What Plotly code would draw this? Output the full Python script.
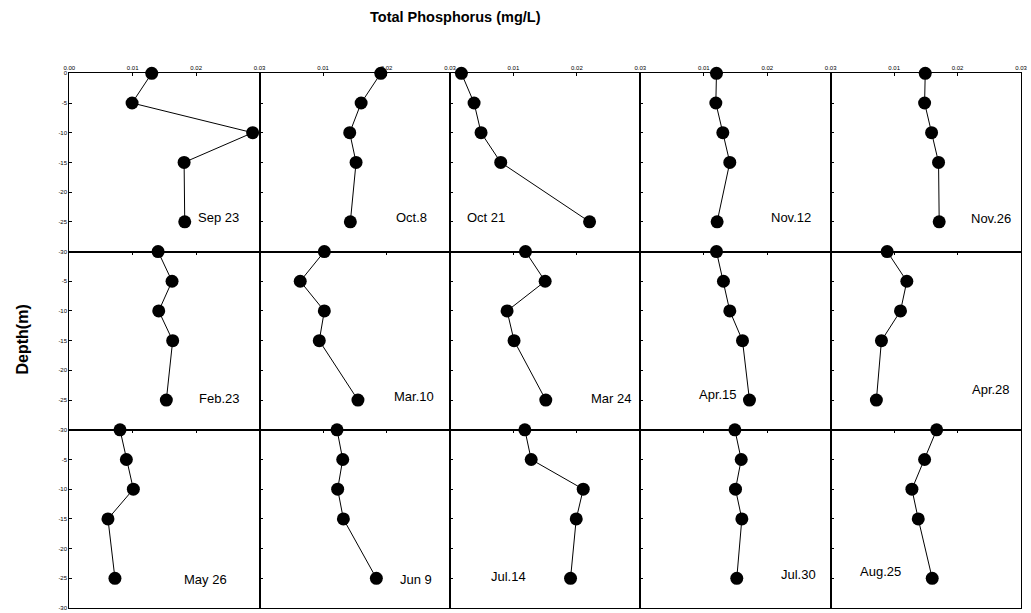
import plotly.graph_objects as go

# ---- data ----
depths = [0, -5, -10, -15, -25]
dates = ["Sep 23", "Oct.8", "Oct 21", "Nov.12", "Nov.26",
         "Feb.23", "Mar.10", "Mar 24", "Apr.15", "Apr.28",
         "May 26", "Jun 9", "Jul.14", "Jul.30", "Aug.25"]
sep23 = [0.0130, 0.0099, 0.0289, 0.0181, 0.0182]
oct8 = [0.0191, 0.0160, 0.0142, 0.0152, 0.0143]
oct21 = [0.0018, 0.0038, 0.0049, 0.0080, 0.0220]
nov12 = [0.0120, 0.0119, 0.0130, 0.0141, 0.0121]
nov26 = [0.0149, 0.0148, 0.0159, 0.0170, 0.0171]
feb23 = [0.0140, 0.0162, 0.0141, 0.0163, 0.0153]
mar10 = [0.0102, 0.0064, 0.0102, 0.0094, 0.0155]
mar24 = [0.0119, 0.0150, 0.0090, 0.0101, 0.0151]
apr15 = [0.0120, 0.0131, 0.0141, 0.0161, 0.0172]
apr28 = [0.0089, 0.0120, 0.0110, 0.0080, 0.0072]
may26 = [0.0080, 0.0090, 0.0101, 0.0061, 0.0072]
jun9 = [0.0122, 0.0131, 0.0123, 0.0132, 0.0184]
jul14 = [0.0118, 0.0128, 0.0210, 0.0199, 0.0190]
jul30 = [0.0149, 0.0159, 0.0150, 0.0160, 0.0152]
aug25 = [0.0167, 0.0148, 0.0128, 0.0138, 0.0160]
series = [sep23, oct8, oct21, nov12, nov26,
          feb23, mar10, mar24, apr15, apr28,
          may26, jun9, jul14, jul30, aug25]

x_tickvals_first = [0, 0.01, 0.02, 0.03]
x_ticktext_first = ["0.00", "0.01", "0.02", "0.03"]
x_tickvals_rest = [0.01, 0.02, 0.03]
x_ticktext_rest = ["0.01", "0.02", "0.03"]
y_tickvals = [-30, -25, -20, -15, -10, -5, 0]
y_ticktext = ["-30", "-25", "-20", "-15", "-10", "-5", "0"]

# label placement (data coords within each panel)
label_pos = [(0.0235, -24.2), (0.0240, -24.2), (0.0056, -24.2), (0.0238, -24.2), (0.0253, -24.4),
             (0.0236, -24.8), (0.0244, -24.4), (0.0253, -24.7), (0.0123, -24.0), (0.0252, -23.3),
             (0.0215, -25.2), (0.0247, -25.2), (0.0093, -24.7), (0.0249, -24.3), (0.0078, -23.8)]

W, H = 1031, 613
x_left, x_right = 64, 1027
y_top, y_bot = 71, 611
ncol, nrow = 5, 3
cw = (x_right - x_left) / ncol
rh = (y_bot - y_top) / nrow

fig = go.Figure()
layout = dict(
    width=W, height=H, autosize=False,
    margin=dict(l=0, r=0, t=0, b=0),
    paper_bgcolor="white", plot_bgcolor="white",
    showlegend=False,
    font=dict(family="Liberation Sans, Arial, sans-serif", color="black"),
)
annotations = []

for k in range(15):
    r, c = divmod(k, ncol)
    n = k + 1
    xs = "" if n == 1 else str(n)
    xd = [(x_left + c * cw) / W, (x_left + (c + 1) * cw) / W]
    yd = [1 - (y_top + (r + 1) * rh) / H, 1 - (y_top + r * rh) / H]
    first_col = c == 0
    layout["xaxis" + xs] = dict(
        domain=xd, range=[0, 0.03], side="top", anchor="y" + xs,
        showline=True, linecolor="black", linewidth=1, mirror=True,
        ticks="inside", ticklen=3, tickcolor="black", tickwidth=1,
        tickvals=x_tickvals_first if first_col else x_tickvals_rest,
        ticktext=x_ticktext_first if first_col else x_ticktext_rest,
        showticklabels=(r == 0), tickfont=dict(size=6),
        showgrid=False, zeroline=False, fixedrange=True,
    )
    yv = y_tickvals if r == 0 else y_tickvals[:-1]
    yt = y_ticktext if r == 0 else y_ticktext[:-1]
    layout["yaxis" + xs] = dict(
        domain=yd, range=[-30, 0], anchor="x" + xs,
        showline=True, linecolor="black", linewidth=1, mirror=True,
        ticks="inside", ticklen=3, tickcolor="black", tickwidth=1,
        tickvals=yv, ticktext=yt,
        showticklabels=first_col, tickfont=dict(size=6),
        showgrid=False, zeroline=False, fixedrange=True,
    )
    fig.add_trace(go.Scatter(
        x=series[k], y=depths, mode="lines+markers",
        xaxis="x" + xs, yaxis="y" + xs,
        line=dict(color="black", width=1),
        marker=dict(color="black", size=13),
        cliponaxis=False,
    ))
    lx, ly = label_pos[k]
    annotations.append(dict(
        x=lx, y=ly, xref="x" + xs, yref="y" + xs, text=dates[k],
        showarrow=False, font=dict(size=13, color="black"),
        xanchor="center", yanchor="middle",
    ))

annotations.append(dict(
    x=455 / W, y=1 - 14 / H, xref="paper", yref="paper",
    text="<b>Total Phosphorus (mg/L)</b>", showarrow=False,
    font=dict(size=14.5, color="black"), xanchor="center", yanchor="middle",
))
annotations.append(dict(
    x=17 / W, y=1 - 340 / H, xref="paper", yref="paper",
    text="<b>Depth(m)</b>", showarrow=False, textangle=-90,
    font=dict(size=16, color="black"), xanchor="center", yanchor="middle",
))
layout["annotations"] = annotations
fig.update_layout(**layout)
fig.write_html("out.html")
